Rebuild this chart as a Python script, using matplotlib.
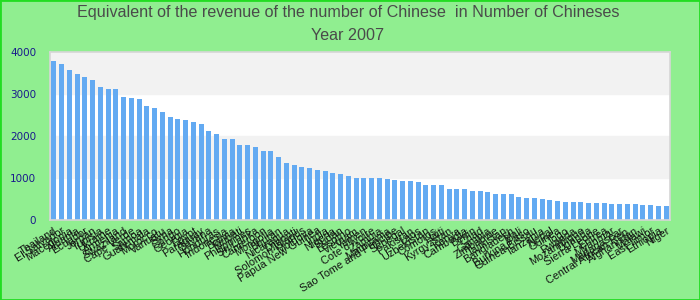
import matplotlib.pyplot as plt
from matplotlib.patches import Rectangle

countries = ['Thailand', 'El Salvador', 'Macedonia', 'Albania', 'Ecuador', 'Jordan',
             'Tunisia', 'Ukraine', 'Armenia', 'Swaziland', 'Cape Verde', 'Samoa',
             'Guatemala', 'Morocco', 'Vanuatu', 'Syria', 'Congo', 'Georgia', 'Egypt',
             'Paraguay', 'Guyana', 'Honduras', 'Indonesia', 'Bolivia', 'Kiribati',
             'Philippines', 'Sri Lanka', 'Cameroon', 'Mongolia', 'Bhutan', 'Nicaragua',
             'Djibouti', 'Solomon Islands', 'Moldova', 'Papua New Guinea', 'India',
             'Nigeria', 'Sudan', 'Lesotho', 'Vietnam', 'Yemen', "Cote d'Ivoire", 'Zambia',
             'Mauritania', 'Sao Tome and Principe', 'Senegal', 'Pakistan', 'Laos',
             'Uzbekistan', 'Comoros', 'Haiti', 'Kyrgyzstan', 'Kenya', 'Cambodia', 'Benin',
             'Chad', 'Gambia', 'Zimbabwe', 'Tajikistan', 'Bangladesh', 'Mali',
             'Burkina Faso', 'Guinea-Bissau', 'Tanzania', 'Nepal', 'Guinea', 'Togo',
             'Rwanda', 'Mozambique', 'Uganda', 'Sierra Leone', 'Eritrea', 'Myanmar',
             'Madagascar', 'Central African Rep.', 'Afghanistan', 'Malawi', 'East Timor',
             'Ethiopia', 'Niger']

values = [3786, 3714, 3571, 3476, 3405, 3333, 3167, 3119, 3119, 2929, 2905, 2881,
          2714, 2667, 2571, 2452, 2405, 2381, 2333, 2286, 2119, 2048, 1929, 1929,
          1786, 1786, 1738, 1643, 1643, 1500, 1357, 1310, 1262, 1238, 1190, 1167,
          1119, 1095, 1048, 1000, 1000, 1000, 1000, 976, 952, 929, 929, 905,
          833, 833, 833, 738, 738, 738, 690, 690, 667, 619, 619, 619,
          548, 524, 524, 500, 476, 452, 429, 429, 429, 405, 405, 405,
          381, 381, 381, 381, 357, 357, 333, 333]

fig = plt.figure(figsize=(7, 3), dpi=100)
fig.patch.set_facecolor('#90ee90')
fig.patches.append(Rectangle((0, 0), 1, 1, transform=fig.transFigure, fill=False,
                             edgecolor='#22dd22', linewidth=2))

ax = fig.add_axes([50 / 700, 80 / 300, 620 / 700, 168.3 / 300])
ax.set_facecolor('white')

# alternating bands
for lo in [1000, 3000]:
    ax.axhspan(lo, lo + 1000, color='#f2f2f2', zorder=0)

x = range(len(countries))
ax.bar(x, values, width=0.64, color='#63aaf2', zorder=2)

ax.set_xlim(-0.5, len(countries) - 0.5)
ax.set_ylim(0, 4000)
ax.set_yticks([0, 1000, 2000, 3000, 4000])
ax.set_xticks(list(x))
ax.set_xticklabels(countries, rotation=32, ha='right', rotation_mode='anchor',
                   fontsize=7.8, family=['Liberation Sans', 'DejaVu Sans'], color='#111111')
ax.tick_params(axis='x', length=0, pad=4)
ax.tick_params(axis='y', length=0, pad=10, labelsize=7.5, labelcolor='#1a1a8c')

for spine in ax.spines.values():
    spine.set_color('#d6d6d6')
    spine.set_linewidth(1.2)

title_font = ['Liberation Sans', 'DejaVu Sans']
fig.text(0.497, 1 - 13 / 300, 'Equivalent of the revenue of the number of Chinese  in Number of Chineses',
         ha='center', va='center', fontsize=11.6, color='#4a4a4a', family=title_font)
fig.text(0.497, 1 - 36 / 300, 'Year 2007', ha='center', va='center', fontsize=11.6,
         color='#4a4a4a', family=title_font)

plt.savefig('out.png', dpi=100, facecolor=fig.get_facecolor())
plt.close()
